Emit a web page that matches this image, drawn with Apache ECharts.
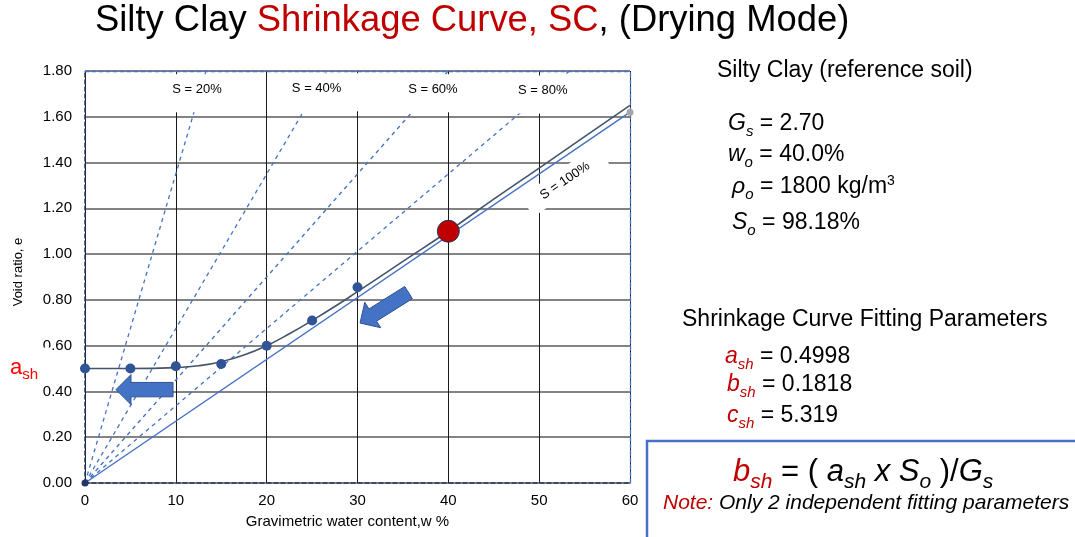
<!DOCTYPE html>
<html>
<head>
<meta charset="utf-8">
<script src="https://cdn.jsdelivr.net/npm/echarts@6/dist/echarts.min.js"></script>
<style>
  html, body { margin: 0; padding: 0; background: #fff; }
  #chart { width: 1075px; height: 537px; }
</style>
</head>
<body>
<div id="chart"></div>
<script>
// ---- Data -------------------------------------------------------------
// Axis ticks
const xTicks = [0, 10, 20, 30, 40, 50, 60];                       // water content, %
const yTicks = [0, 0.2, 0.4, 0.6, 0.8, 1.0, 1.2, 1.4, 1.6, 1.8];  // void ratio

// Measured drying points (w %, e)
const measuredW = [0, 5, 10, 15, 20, 25, 30];
const measuredE = [0.50, 0.50, 0.51, 0.52, 0.60, 0.71, 0.855];

// Initial state of the specimen
const initialW = [40];
const initialE = [1.10];

// Origin point shared by the saturation lines
const originW = [0];
const originE = [0];

// Fitted shrinkage curve
const curveW = [0, 5, 10, 12.5, 15, 17.5, 20, 22.5, 25, 27.5, 30, 35, 40, 45, 50, 55, 60];
const curveE = [0.50, 0.50, 0.504, 0.512, 0.53, 0.559, 0.60, 0.652, 0.71, 0.771, 0.836, 0.968, 1.10, 1.24, 1.376, 1.513, 1.65];

// Lines of constant degree of saturation (from the origin)
const satLabels = ['S = 20%', 'S = 40%', 'S = 60%', 'S = 80%', 'S = 100%'];
const satEndW = [13.33, 26.67, 40, 53.33, 60];
const satEndE = [1.80, 1.80, 1.80, 1.80, 1.62];

// ---- Chart ------------------------------------------------------------
const FONT = '"Liberation Sans", Arial, Helvetica, sans-serif';
const BLUE = '#4472C4';
const NAVY = '#203864';
const DARKRED = '#C00000';

const chart = echarts.init(document.getElementById('chart'), null, { renderer: 'canvas' });

const xMin = xTicks[0], xMax = xTicks[xTicks.length - 1], xStep = xTicks[1] - xTicks[0];
const yMin = yTicks[0], yMax = yTicks[yTicks.length - 1], yStep = yTicks[1] - yTicks[0];

const satSeries = satLabels.map((name, i) => ({
  name,
  type: 'line',
  data: [[0, 0], [satEndW[i], satEndE[i]]],
  symbol: 'none',
  silent: true,
  lineStyle: i < 4
    ? { color: BLUE, width: 1.3, type: [4, 4] }
    : { color: BLUE, width: 1.4 },
  z: 2
}));

chart.setOption({
  animation: false,
  textStyle: { fontFamily: FONT },
  grid: { left: 85, right: 445, top: 71, bottom: 54, containLabel: false },
  xAxis: [
    {
      type: 'value', min: xMin, max: xMax, interval: xStep,
      name: 'Gravimetric water content,w %',
      nameLocation: 'middle', nameGap: 31,
      nameTextStyle: { fontSize: 15, color: '#000', fontFamily: FONT, padding: [0, 20, 0, 0] },
      axisLine: { show: true, onZero: false, lineStyle: { color: NAVY, width: 1.5, type: [4, 3] } },
      axisTick: { show: false },
      axisLabel: { fontSize: 15, color: '#000', margin: 10, fontFamily: FONT },
      splitLine: { show: true, lineStyle: { color: '#1a1a1a', width: 1 } }
    },
    {
      type: 'value', position: 'top', min: xMin, max: xMax, interval: xStep,
      axisLine: { show: true, onZero: false, lineStyle: { color: BLUE, width: 1.3, type: [4, 3] } },
      axisTick: { show: false }, axisLabel: { show: false }, splitLine: { show: false }
    }
  ],
  yAxis: [
    {
      type: 'value', min: yMin, max: yMax, interval: yStep,
      name: 'Void ratio, e',
      nameLocation: 'middle', nameGap: 60,
      nameTextStyle: { fontSize: 13, color: '#000', fontFamily: FONT, padding: [0, 0, 0, 10] },
      axisLine: { show: true, onZero: false, lineStyle: { color: NAVY, width: 1.5, type: [4, 3] } },
      axisTick: { show: false },
      axisLabel: { fontSize: 15, color: '#000', margin: 13, fontFamily: FONT,
                   formatter: v => v.toFixed(2) },
      splitLine: { show: true, lineStyle: { color: '#5a5a5a', width: 1.6 } }
    },
    {
      type: 'value', position: 'right', min: yMin, max: yMax, interval: yStep,
      axisLine: { show: true, onZero: false, lineStyle: { color: BLUE, width: 1.3, type: [4, 3] } },
      axisTick: { show: false }, axisLabel: { show: false }, splitLine: { show: false }
    }
  ],
  series: [
    ...satSeries,
    {
      name: 'Shrinkage curve',
      type: 'line',
      data: curveW.map((w, i) => [w, curveE[i]]),
      smooth: true,
      symbol: 'none',
      lineStyle: { color: '#44546A', width: 1.6 },
      z: 3
    },
    {
      name: 'S = 100% end',
      type: 'scatter',
      data: [[satEndW[4], satEndE[4]]],
      symbolSize: 7,
      itemStyle: { color: '#A6A6A6', opacity: 1 },
      clip: false,
      z: 4
    },
    {
      name: 'Origin',
      type: 'scatter',
      data: originW.map((w, i) => [w, originE[i]]),
      symbolSize: 7,
      itemStyle: { color: NAVY, opacity: 1 },
      clip: false,
      z: 4
    },
    {
      name: 'Measured',
      type: 'scatter',
      data: measuredW.map((w, i) => [w, measuredE[i]]),
      symbolSize: 10,
      itemStyle: { color: '#2F5597', opacity: 1 },
      clip: false,
      z: 5
    },
    {
      name: 'Initial state',
      type: 'scatter',
      data: initialW.map((w, i) => [w, initialE[i]]),
      symbolSize: 22,
      itemStyle: { color: DARKRED, borderColor: NAVY, borderWidth: 1, opacity: 1 },
      clip: false,
      z: 6
    }
  ]
});

// ---- Annotations ------------------------------------------------------
const toPx = (w, e) => chart.convertToPixel({ gridIndex: 0 }, [w, e]);
const meas = document.createElement('canvas').getContext('2d');

// Lay out a line of mixed-style text runs on a common baseline.
function textRuns(x, baseline, runs, z) {
  const els = [];
  let cx = x;
  for (const r of runs) {
    const font = (r.italic ? 'italic ' : '') + r.size + 'px ' + FONT;
    meas.font = font;
    const yMid = baseline + (r.dy || 0) - 0.3465 * r.size;
    els.push({
      type: 'text', x: cx, y: yMid, z: z || 100,
      style: { text: r.t, font, fill: r.color || '#000', textAlign: 'left', textVerticalAlign: 'middle' }
    });
    cx += meas.measureText(r.t).width;
  }
  return els;
}

// Block arrow from tail to tip (pixels)
function blockArrow(tip, tail) {
  const headLen = 15, headHalf = 15, bodyHalf = 7.2;
  const dx = tail[0] - tip[0], dy = tail[1] - tip[1];
  const L = Math.hypot(dx, dy);
  const u = [dx / L, dy / L], n = [-u[1], u[0]];
  const hb = [tip[0] + u[0] * headLen, tip[1] + u[1] * headLen];
  const pt = (b, s) => [b[0] + n[0] * s, b[1] + n[1] * s];
  return {
    type: 'polygon', z: 90,
    shape: { points: [tip, pt(hb, headHalf), pt(hb, bodyHalf), pt(tail, bodyHalf),
                      pt(tail, -bodyHalf), pt(hb, -bodyHalf), pt(hb, -headHalf)] },
    style: { fill: BLUE, stroke: '#2F528F', lineWidth: 1 }
  };
}

function buildGraphics() {
  const g = [];

  // Saturation labels along the top of the plot
  const satLabelAt = [[12.33, 1.72], [25.5, 1.725], [38.3, 1.72], [50.4, 1.715]];
  satLabelAt.forEach((p, i) => {
    const c = toPx(p[0], p[1]);
    g.push({
      type: 'group', x: c[0], y: c[1], z: 80,
      children: [
        { type: 'rect', shape: { x: -43, y: -15, width: 86, height: 38 }, style: { fill: '#fff' }, z: 80 },
        { type: 'text', x: 0, y: 0, z: 81,
          style: { text: satLabels[i], font: '13px ' + FONT, fill: '#000', textAlign: 'center', textVerticalAlign: 'middle' } }
      ]
    });
  });

  // Rotated label on the full-saturation line
  const p0 = toPx(0, 0), p1 = toPx(satEndW[4], satEndE[4]);
  const ang = Math.atan2(p0[1] - p1[1], p1[0] - p0[0]);
  const c100 = toPx(52.85, 1.32);
  g.push({
    type: 'group', x: c100[0], y: c100[1], rotation: ang, z: 80,
    children: [
      { type: 'rect', shape: { x: -46, y: -12, width: 92, height: 24 }, style: { fill: '#fff' }, z: 80 },
      { type: 'text', x: 0, y: 0, z: 81,
        style: { text: satLabels[4], font: '13px ' + FONT, fill: '#000', textAlign: 'center', textVerticalAlign: 'middle' } }
    ]
  });

  // Drying direction arrows
  g.push(blockArrow(toPx(3.41, 0.408), toPx(9.69, 0.408)));
  g.push(blockArrow(toPx(30.28, 0.699), toPx(35.62, 0.832)));

  // a_sh marker beside the vertical axis
  g.push({ type: 'rect', shape: { x: 38, y: 347.5, width: 14, height: 10 }, style: { fill: '#fff' }, z: 95 });
  g.push(...textRuns(10, 376, [
    { t: 'a', size: 22, color: '#FF0000' },
    { t: 'sh', size: 15, color: '#FF0000', dy: 4 }
  ]));

  // Title
  g.push(...textRuns(95, 34, [
    { t: 'Silty Clay ', size: 36.4 },
    { t: 'Shrinkage Curve, SC', size: 36.4, color: DARKRED },
    { t: ', (Drying Mode)', size: 36.4 }
  ]));

  // Soil properties
  g.push(...textRuns(717, 79, [{ t: 'Silty Clay (reference soil)', size: 23 }]));
  g.push(...textRuns(728, 132, [
    { t: 'G', size: 23, italic: true }, { t: 's', size: 15, italic: true, dy: 5 }, { t: ' = 2.70', size: 23 }
  ]));
  g.push(...textRuns(728, 163, [
    { t: 'w', size: 23, italic: true }, { t: 'o', size: 15, italic: true, dy: 5 }, { t: ' = 40.0%', size: 23 }
  ]));
  g.push(...textRuns(732, 195, [
    { t: 'ρ', size: 23, italic: true }, { t: 'o', size: 15, italic: true, dy: 5 },
    { t: ' = 1800 kg/m', size: 23 }, { t: '3', size: 14, dy: -9 }
  ]));
  g.push(...textRuns(732, 231, [
    { t: 'S', size: 23, italic: true }, { t: 'o', size: 15, italic: true, dy: 5 }, { t: ' = 98.18%', size: 23 }
  ]));

  // Fitting parameters
  g.push(...textRuns(682, 328, [{ t: 'Shrinkage Curve Fitting Parameters', size: 23 }]));
  g.push(...textRuns(725, 365, [
    { t: 'a', size: 23, italic: true, color: DARKRED }, { t: 'sh', size: 15, italic: true, color: DARKRED, dy: 5 },
    { t: ' = 0.4998', size: 23 }
  ]));
  g.push(...textRuns(727, 393, [
    { t: 'b', size: 23, italic: true, color: DARKRED }, { t: 'sh', size: 15, italic: true, color: DARKRED, dy: 5 },
    { t: ' = 0.1818', size: 23 }
  ]));
  g.push(...textRuns(727, 424, [
    { t: 'c', size: 23, italic: true, color: DARKRED }, { t: 'sh', size: 15, italic: true, color: DARKRED, dy: 5 },
    { t: ' = 5.319', size: 23 }
  ]));

  // Relation box
  g.push({ type: 'rect', z: 70, shape: { x: 647, y: 441, width: 500, height: 200 },
           style: { fill: 'none', stroke: BLUE, lineWidth: 2.5 } });
  g.push(...textRuns(733, 483, [
    { t: 'b', size: 31, italic: true, color: DARKRED }, { t: 'sh', size: 21, italic: true, color: DARKRED, dy: 6 },
    { t: ' = ( ', size: 31 },
    { t: 'a', size: 31, italic: true }, { t: 'sh', size: 21, italic: true, dy: 6 },
    { t: ' x ', size: 31, italic: true },
    { t: 'S', size: 31, italic: true }, { t: 'o', size: 21, italic: true, dy: 6 },
    { t: ' )/', size: 31 },
    { t: 'G', size: 31, italic: true }, { t: 's', size: 21, italic: true, dy: 6 }
  ]));
  g.push(...textRuns(663, 510, [
    { t: 'Note:', size: 21, italic: true, color: DARKRED },
    { t: ' Only 2 independent fitting parameters', size: 21, italic: true }
  ]));

  return g;
}

chart.setOption({ graphic: { elements: buildGraphics() } });
</script>
</body>
</html>
